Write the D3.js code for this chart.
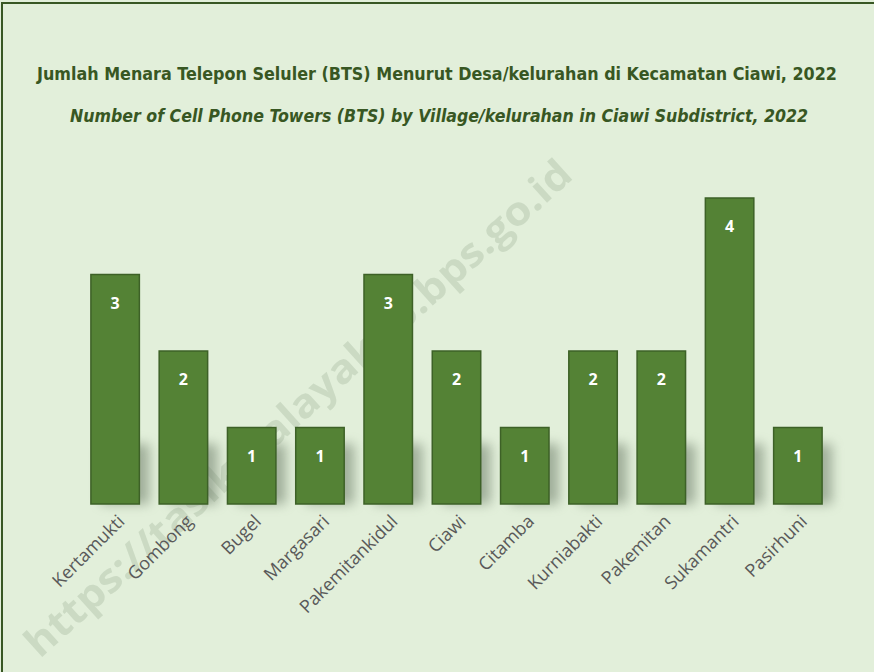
<!DOCTYPE html>
<html>
  <head>
    <script src="https://cdn.jsdelivr.net/npm/d3@7"></script>
    <style>
      body { margin: 0; background: #e2efda; }
    </style>
  </head>
  <body>
    <svg width="874" height="672" id="mainsvg"></svg>
    <script>
      // data
      const villages = ["Kertamukti", "Gombong", "Bugel", "Margasari", "Pakemitankidul", "Ciawi",
        "Citamba", "Kurniabakti", "Pakemitan", "Sukamantri", "Pasirhuni"];
      const towers = [3, 2, 1, 1, 3, 2, 1, 2, 2, 4, 1];
      const yTicks = [0, 1, 2, 3, 4];
      const titleId = "Jumlah Menara Telepon Seluler (BTS) Menurut Desa/kelurahan di Kecamatan Ciawi, 2022";
      const titleEn = "Number of Cell Phone Towers (BTS) by Village/kelurahan in Ciawi Subdistrict, 2022";
      const watermark = "https://tasikmalayakab.bps.go.id";

      const svg = d3.select("#mainsvg");
      const font = "'Open Sans', 'Noto Sans', sans-serif";
      const narrow = "'Liberation Sans Narrow', 'DejaVu Sans Condensed', 'Open Sans', sans-serif";

      // background + frame
      svg.append("rect").attr("x", 0).attr("y", 0).attr("width", 874).attr("height", 672).attr("fill", "#e2efda");
      svg.append("rect").attr("x", 2).attr("y", 3).attr("width", 890).attr("height", 690)
        .attr("fill", "none").attr("stroke", "#385723").attr("stroke-width", 2);

      // titles
      svg.append("text").attr("x", 437).attr("y", 80).attr("text-anchor", "middle")
        .attr("font-family", narrow).attr("font-weight", "bold").attr("font-size", 17)
        .attr("fill", "#385723").attr("textLength", 800).attr("lengthAdjust", "spacingAndGlyphs")
        .text(titleId);
      svg.append("text").attr("x", 439).attr("y", 122).attr("text-anchor", "middle")
        .attr("font-family", narrow).attr("font-weight", "bold").attr("font-style", "italic").attr("font-size", 17)
        .attr("fill", "#385723").attr("textLength", 738).attr("lengthAdjust", "spacingAndGlyphs")
        .text(titleEn);

      // watermark (behind the bars)
      svg.append("text")
        .attr("transform", "translate(298,408) rotate(-42)")
        .attr("text-anchor", "middle")
        .attr("dy", "0.35em")
        .attr("font-family", font)
        .attr("font-weight", "bold")
        .attr("font-size", 40)
        .attr("fill", "#b5c6ae")
        .attr("opacity", 0.5)
        .attr("textLength", 720)
        .attr("lengthAdjust", "spacingAndGlyphs")
        .text(watermark);

      // scales
      const x = d3.scaleBand().domain(villages).range([81, 832]).paddingInner(0.29).paddingOuter(0.145);
      const y = d3.scaleLinear().domain([0, d3.max(yTicks)]).range([504, 198]);

      // shadow filter
      const defs = svg.append("defs");
      defs.append("filter").attr("id", "blur").attr("x", "-50%").attr("y", "-50%").attr("width", "200%").attr("height", "200%")
        .append("feGaussianBlur").attr("stdDeviation", 6);

      const g = svg.append("g");

      // soft shadows at the base of each bar
      g.selectAll(".shadow")
        .data(villages)
        .join("rect")
        .attr("class", "shadow")
        .attr("x", (d) => x(d) + 10)
        .attr("y", (d, i) => Math.max(y(towers[i]) + 8, y(0) - 60))
        .attr("width", x.bandwidth())
        .attr("height", (d, i) => y(0) - Math.max(y(towers[i]) + 8, y(0) - 60))
        .attr("fill", "#6b7a66")
        .attr("opacity", 0.55)
        .attr("filter", "url(#blur)");

      // bars
      g.selectAll(".bar")
        .data(villages)
        .join("rect")
        .attr("class", "bar")
        .attr("x", (d) => x(d))
        .attr("y", (d, i) => y(towers[i]))
        .attr("width", x.bandwidth())
        .attr("height", (d, i) => y(0) - y(towers[i]))
        .attr("fill", "#548235")
        .attr("stroke", "#3d6127")
        .attr("stroke-width", 1.5);

      // value labels
      g.selectAll(".val")
        .data(villages)
        .join("text")
        .attr("class", "val")
        .attr("x", (d) => x(d) + x.bandwidth() / 2)
        .attr("y", (d, i) => y(towers[i]) + 34)
        .attr("text-anchor", "middle")
        .attr("font-family", font)
        .attr("font-weight", "bold")
        .attr("font-size", 16)
        .attr("fill", "#ffffff")
        .text((d, i) => towers[i]);

      // category labels
      g.selectAll(".cat")
        .data(villages)
        .join("text")
        .attr("class", "cat")
        .attr("transform", (d) => `translate(${x(d) + x.bandwidth() / 2 + 6},${y(0) + 14}) rotate(-45)`)
        .attr("text-anchor", "end")
        .attr("dy", "0.35em")
        .attr("font-family", font)
        .attr("font-size", 18)
        .attr("fill", "#595959")
        .text((d) => d);
    </script>
  </body>
</html>
